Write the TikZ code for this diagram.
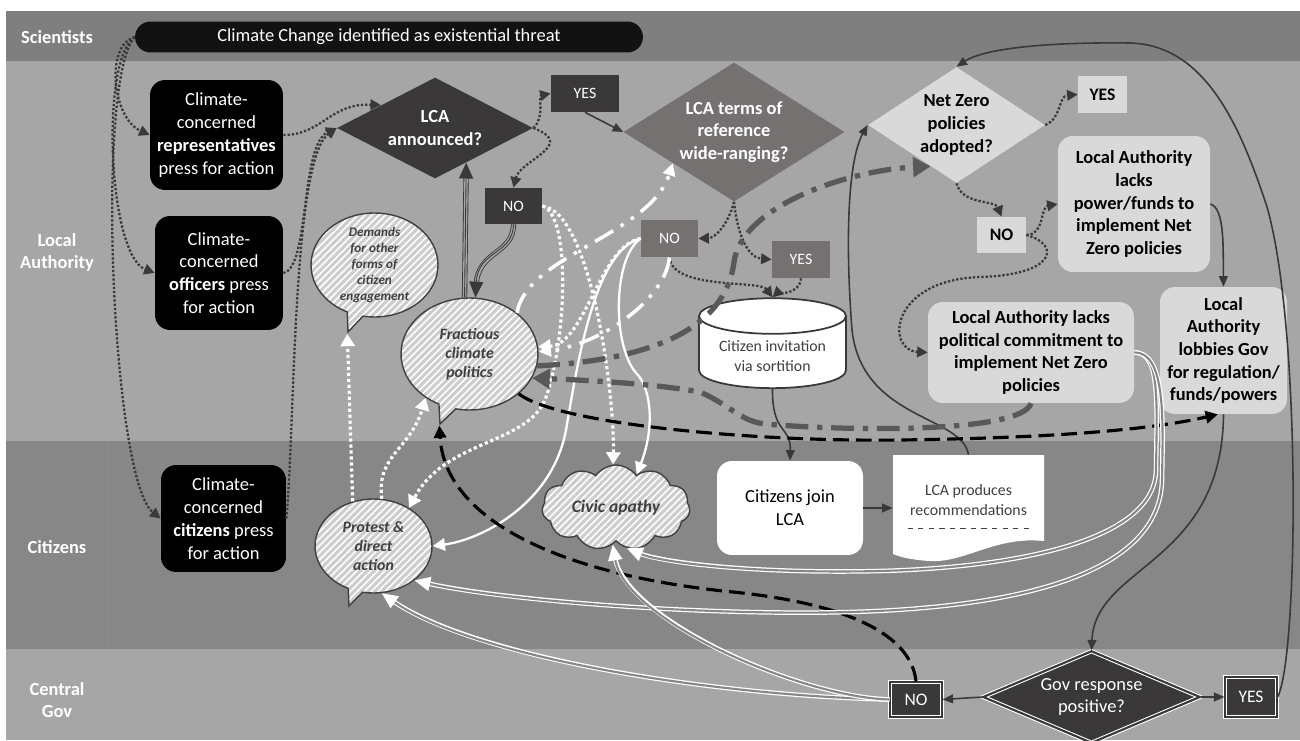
\documentclass[tikz,border=0pt]{standalone}
\usepackage{fontspec}
\setmainfont{Carlito}
\usetikzlibrary{arrows.meta,%
                shapes.geometric,%
                shapes.callouts,%
                shapes.symbols,%
                patterns.meta}
\definecolor{SciBand}{HTML}{7F7F7F}
\definecolor{LABand}{HTML}{A6A6A6}
\definecolor{CitBand}{HTML}{878787}
\definecolor{DarkFill}{HTML}{3A3838}
\definecolor{MidFill}{HTML}{767171}
\definecolor{LightFill}{HTML}{D9D9D9}
\definecolor{HatchBase}{HTML}{CDCDCD}
\definecolor{GrayDash}{HTML}{595959}
\definecolor{TextGray}{HTML}{404040}

\begin{document}
\begin{tikzpicture}[x=0.02cm,y=-0.02cm]
		\tikzstyle{LaneLabel}=[text=white,align=center,font=\fontsize{10.5}{12.5}\selectfont\bfseries]
		\tikzstyle{Banner}=[fill=black!93,text=white,rounded corners=0.31cm,minimum width=10.16cm,minimum height=0.62cm,font=\fontsize{10.5}{13}\selectfont]
		\tikzstyle{BlackBox}=[fill=black,text=white,rounded corners=0.3cm,align=center,inner sep=1pt,font=\fontsize{10.5}{13}\selectfont]
		\tikzstyle{DarkDiamond}=[diamond,fill=DarkFill,text=white,align=center,inner sep=0pt,font=\fontsize{10.5}{13}\selectfont\bfseries]
		\tikzstyle{MidDiamond}=[DarkDiamond,fill=MidFill]
		\tikzstyle{LightDiamond}=[DarkDiamond,fill=LightFill,text=black]
		\tikzstyle{DarkTag}=[fill=DarkFill,text=white,inner sep=0pt,font=\fontsize{9}{11}\selectfont]
		\tikzstyle{MidTag}=[DarkTag,fill=MidFill]
		\tikzstyle{LightTag}=[fill=LightFill,text=black,inner sep=0pt,font=\fontsize{10}{12}\selectfont\bfseries]
		\tikzstyle{GovTag}=[DarkTag,draw=white,double=DarkFill,double distance=1.2pt,line width=0.6pt,font=\fontsize{10}{12}\selectfont]
		\tikzstyle{LightBox}=[fill=LightFill,rounded corners=0.3cm,align=center,inner sep=1pt,font=\fontsize{10.5}{12.9}\selectfont\bfseries]
		\tikzstyle{WhiteBox}=[fill=white,rounded corners=0.3cm,align=center,font=\fontsize{10.5}{13}\selectfont]
		\tikzstyle{Hatched}=[draw=TextGray,line width=0.8pt,preaction={fill=HatchBase},pattern={Lines[angle=45,distance=2.8pt,line width=0.9pt]},pattern color=white,text=TextGray,align=center,inner sep=0pt,font=\fontsize{9}{10.9}\selectfont\bfseries\itshape]
		\tikzstyle{Bubble}=[Hatched,ellipse callout]
		\tikzstyle{Cloud}=[Hatched,cloud,cloud puffs=11,cloud puff arc=110,aspect=2.2,font=\fontsize{10}{12}\selectfont\bfseries\itshape]
		\tikzstyle{Drum}=[cylinder,shape border rotate=90,aspect=0.3,draw=DarkFill,line width=1pt,fill=white,text=TextGray,align=center,font=\fontsize{9}{11.3}\selectfont]
		% connector styles
		\tikzstyle{DotLink}=[draw=DarkFill,line width=1.3pt,dash pattern=on 1.3pt off 1.1pt,-{Triangle[length=6pt,width=6pt]}]
		\tikzstyle{SolidLink}=[draw=DarkFill,line width=0.9pt,-{Triangle[length=6pt,width=5pt]}]
		\tikzstyle{TripleLink}=[draw=DarkFill,line width=0.5pt,-{Triangle[length=9pt,width=8pt]},preaction={draw=DarkFill,double=LABand,double distance=2pt,line width=0.5pt,shorten >=7pt,arrows=-}]
		\tikzstyle{WhiteDouble}=[draw=CitBand,line width=1.2pt,-{Triangle[length=9pt,width=8pt,color=white]},preaction={draw=white,line width=2.6pt,shorten >=7pt,arrows=-}]
		\tikzstyle{WhiteDot}=[draw=white,line width=1.8pt,dash pattern=on 1.8pt off 1.6pt,-{Triangle[length=7pt,width=8pt]}]
		\tikzstyle{WhiteLine}=[draw=white,line width=1.3pt,-{Triangle[length=7pt,width=7pt]}]
		\tikzstyle{WhiteDashDot}=[draw=white,line width=2pt,dash pattern=on 12pt off 5pt on 2pt off 5pt on 2pt off 5pt,-{Triangle[length=7pt,width=7pt]}]
		\tikzstyle{GrayDashDot}=[draw=GrayDash,line width=3pt,dash pattern=on 13pt off 5pt on 3pt off 5pt,-{Triangle[length=10pt,width=11pt]}]
		\tikzstyle{BlackDash}=[draw=black,line width=1.8pt,dash pattern=on 9pt off 4pt,-{Triangle[length=7pt,width=7pt]}]

		\useasboundingbox (0,0) rectangle (1300,740);
		\fill[white] (0,0) rectangle (1300,740);
		% swim lanes
		\fill[SciBand] (6,11) rectangle (1300,61);
		\fill[LABand] (6,61) rectangle (1300,441);
		\fill[CitBand] (6,441) rectangle (1300,649);
		\fill[LABand] (6,649) rectangle (1300,740);
		\draw[black!45,line width=0.4pt] (107,441) -- (107,649);
		\node[LaneLabel] (lsci) at (57,37) {Scientists};
		\node[LaneLabel] (lla) at (57,252) {Local\\Authority};
		\node[LaneLabel] (lcit) at (57,547) {Citizens};
		\node[LaneLabel] (lgov) at (57,700) {Central\\Gov};

		% actors
		\node[Banner] (threat) at (389,37) {Climate Change identified as existential threat};
		\node[BlackBox,minimum width=2.66cm,minimum height=2.2cm] (reps) at (216.5,135) {Climate-\\concerned\\\textbf{representatives}\\press for action};
		\node[BlackBox,minimum width=2.56cm,minimum height=2.28cm] (officers) at (219,273) {Climate-\\concerned\\\textbf{officers} press\\for action};
		\node[BlackBox,minimum width=2.5cm,minimum height=2.14cm] (citz) at (223.5,518.5) {Climate-\\concerned\\\textbf{citizens} press\\for action};

		% decisions
		\node[DarkDiamond,aspect=1.94,minimum width=3.92cm,minimum height=2.02cm] (lcaq) at (435,128) {LCA\\announced?};
		\node[DarkTag,minimum width=1.36cm,minimum height=0.74cm] (yesA) at (585,93.5) {YES};
		\node[DarkTag,minimum width=1.14cm,minimum height=0.72cm] (noA) at (513.5,206) {NO};
		\node[MidDiamond,aspect=1.59,minimum width=4.42cm,minimum height=2.78cm] (lcat) at (734,132) {LCA terms of\\reference\\wide-ranging?};
		\node[MidTag,minimum width=1.14cm,minimum height=0.74cm] (noB) at (669.5,238.5) {NO};
		\node[MidTag,minimum width=1.16cm,minimum height=0.74cm] (yesB) at (801,259.5) {YES};
		\node[LightDiamond,aspect=1.53,minimum width=3.54cm,minimum height=2.32cm] (nz) at (956.5,125) {Net Zero\\policies\\adopted?};
		\node[LightTag,minimum width=0.98cm,minimum height=0.74cm] (yesC) at (1102.5,94.5) {YES};
		\node[LightTag,minimum width=0.98cm,minimum height=0.72cm] (noC) at (1001.5,235) {NO};
		\node[LightBox,minimum width=3.04cm,minimum height=2.72cm] (lapow) at (1134,204) {Local Authority\\lacks\\power/funds to\\implement Net\\Zero policies};
		\node[LightBox,minimum width=4.12cm,minimum height=2.02cm] (lacom) at (1031,352.5) {Local Authority lacks\\political commitment to\\implement Net Zero\\policies};
		\node[LightBox,minimum width=2.54cm,minimum height=2.54cm] (lalob) at (1223.5,350.5) {Local\\Authority\\lobbies Gov\\for regulation/\\funds/powers};

		% assembly
		\node[Drum,minimum width=2.94cm,minimum height=1.76cm] (cyl) at (772.5,356) {Citizen invitation\\via sortition};
		\node[WhiteBox,minimum width=2.92cm,minimum height=1.88cm] (cjoin) at (790,508) {Citizens join\\LCA};
		\fill[white] (893,455) -- (1044,455) -- (1044,541) .. controls (995,536) and (965,563) .. (930,561) .. controls (912,560) and (900,557) .. (893,554) -- cycle;
		\node[align=center,text=TextGray,minimum width=3.02cm,minimum height=1.8cm,font=\fontsize{9}{11.3}\selectfont] (lcarec) at (968.5,500) {LCA produces\\recommendations};
		\draw[TextGray,dashed,line width=0.5pt] ([xshift=0.3cm,yshift=-0.56cm]lcarec.west) -- ([xshift=-0.24cm,yshift=-0.56cm]lcarec.east);

		% central government
		\node[DarkDiamond,aspect=2.36,minimum width=4.34cm,minimum height=1.84cm,draw=white,double=DarkFill,double distance=1.2pt,line width=0.6pt,font=\fontsize{10.5}{13}\selectfont] (gov) at (1091.5,697) {Gov response\\positive?};
		\node[GovTag,minimum width=1.04cm,minimum height=0.7cm] (noD) at (916,699.5) {NO};
		\node[GovTag,minimum width=1.04cm,minimum height=0.8cm] (yesD) at (1251,697) {YES};

		% outcomes
		\node[Bubble,font=\fontsize{7.5}{9}\selectfont\bfseries\itshape,inner sep=-3pt,minimum width=2.54cm,minimum height=2.08cm,callout absolute pointer={(348,332)}] (demands) at (374.5,265) {Demands\\for other\\forms of\\citizen\\engagement};
		\node[Bubble,minimum width=2.74cm,minimum height=2.24cm,callout absolute pointer={(440,424)}] (fract) at (469.5,354) {Fractious\\climate\\politics};
		\node[Bubble,minimum width=2.34cm,minimum height=1.88cm,callout absolute pointer={(349,606)}] (protest) at (373.5,546) {Protest \&\\direct\\action};
		\node[Cloud,minimum width=2.96cm,minimum height=1.7cm] (civic) at (616,507.5) {Civic apathy};

		% pressure for an assembly
		\draw[DotLink] (threat.west) .. controls (105,45) and (112,118) .. (reps.west);
		\draw[DotLink] (threat.west) .. controls (100,60) and (108,255) .. (officers.west);
		\draw[DotLink] (threat.west) .. controls (95,80) and (112,480) .. (citz.west);
		\draw[DotLink] (reps.east) .. controls (322,135) and (330,103) .. (lcaq.157);
		\draw[DotLink] (officers.east) .. controls (310,268) and (300,145) .. (lcaq.west);
		\draw[DotLink] (citz.east) .. controls (295,430) and (292,160) .. (lcaq.west);
		\draw[DotLink] (lcaq.east) .. controls (545,118) and (538,96) .. (yesA.west);
		\draw[DotLink] (lcaq.east) .. controls (578,145) and (520,160) .. (noA.north);
		\draw[SolidLink] (yesA.south) -- (lcat.west);
		\draw[TripleLink] (fract.95) -- (lcaq.-48);
		\draw[TripleLink] (noA.south) .. controls (513,255) and (478,250) .. (fract.84);

		% terms of reference
		\draw[DotLink] (lcat.south) .. controls (728,225) and (715,238) .. (noB.east);
		\draw[DotLink] (lcat.south) .. controls (738,240) and (750,258) .. (yesB.west);
		\draw[DotLink] (noB.south) .. controls (672,290) and (760,280) .. (cyl.top);
		\draw[DotLink] (yesB.south) .. controls (800,295) and (775,295) .. (cyl.top);
		\draw[SolidLink] (cyl.bottom) .. controls (772,435) and (791,425) .. (cjoin.north);
		\draw[SolidLink] (cjoin.east) -- (cjoin.east -| lcarec.west);
		\draw[SolidLink] (lcarec.north) .. controls (962,415) and (862,420) .. (852,330) .. controls (845,240) and (848,160) .. (nz.west);

		% net zero
		\draw[DotLink] (nz.south) .. controls (962,205) and (995,200) .. (noC.north);
		\draw[DotLink] (nz.east) .. controls (1062,118) and (1058,96) .. (yesC.west);
		\draw[DotLink] (noC.east) .. controls (1045,235) and (1040,207) .. (lapow.west);
		\draw[DotLink] (noC.east) .. controls (1062,245) and (1055,275) .. (980,277) .. controls (890,280) and (885,350) .. (lacom.west);
		\draw[SolidLink] (lapow.east) .. controls (1225,208) and (1223,250) .. (lalob.north);
		\draw[SolidLink] (lalob.south) .. controls (1222,565) and (1095,565) .. (gov.north);
		\draw[SolidLink] (gov.west) -- (noD.east);
		\draw[SolidLink] (gov.east) -- (yesD.west);
		\draw[SolidLink] (yesD.east) .. controls (1298,660) and (1302,330) .. (1267,207) .. controls (1240,125) and (1205,45) .. (1130,43) .. controls (1050,42) and (985,48) .. (nz.north);

		% citizen reactions
		\draw[WhiteDot] (protest.115) -- (demands.pointer);
		\draw[WhiteDot] (protest.80) .. controls (376,455) and (410,450) .. (fract.-135);
		\draw[WhiteDot] (noA.east) .. controls (572,215) and (566,345) .. (545,400) .. controls (525,445) and (445,440) .. (protest.47);
		\draw[WhiteDot] (noA.east) .. controls (592,212) and (615,400) .. (civic.94);
		\draw[WhiteDot] (noB.west) .. controls (600,245) and (585,345) .. (fract.6);
		\draw[WhiteLine] (noB.west) .. controls (595,250) and (578,360) .. (566,430) .. controls (552,505) and (480,540) .. (protest.east);
		\draw[WhiteLine] (noB.west) .. controls (612,258) and (612,350) .. (638,375) .. controls (652,392) and (654,430) .. (civic.58);
		\draw[WhiteDashDot] (fract.41) .. controls (527,255) and (650,235) .. (lcat.-153);
		\draw[WhiteDashDot] (noB.south) .. controls (665,300) and (600,345) .. (fract.2);
		\draw[GrayDashDot] (fract.-10) .. controls (650,360) and (725,330) .. (734,262) .. controls (742,205) and (850,170) .. (nz.-122);
		\draw[GrayDashDot] (lacom.south) .. controls (1022,432) and (860,432) .. (765,424) .. controls (740,421) and (730,405) .. (700,392) .. controls (650,383) and (580,380) .. (fract.-21);
		\draw[BlackDash] (fract.-39) .. controls (560,425) and (760,442) .. (900,440) .. controls (1050,438) and (1150,430) .. (lalob.-95);
		\draw[BlackDash] (noD.north) .. controls (912,640) and (860,605) .. (733,592) .. controls (560,575) and (445,520) .. (fract.pointer);
		\draw[WhiteDouble] (lacom.east) .. controls (1160,352) and (1157,400) .. (1156,470) .. controls (1155,545) and (1000,568) .. (880,571) .. controls (750,574) and (660,562) .. (civic.-75);
		\draw[WhiteDouble] (lacom.east) .. controls (1166,352) and (1163,420) .. (1162,480) .. controls (1160,580) and (1000,608) .. (850,612) .. controls (700,616) and (500,600) .. (protest.-40);
		\draw[WhiteDouble] (noD.west) .. controls (700,695) and (470,655) .. (protest.-80);
		\draw[WhiteDouble] (noD.west) .. controls (800,697) and (625,620) .. (civic.-95);
	\end{tikzpicture}
\end{document}
